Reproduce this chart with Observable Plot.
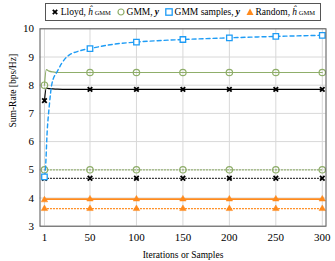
<!DOCTYPE html>
<html><head><meta charset="utf-8">
<script src="https://cdn.jsdelivr.net/npm/d3@7"></script>
<script src="https://cdn.jsdelivr.net/npm/@observablehq/plot@0.6"></script>
<style>
body{margin:0;background:#fff;font-family:"Liberation Serif","DejaVu Serif",serif;}
#wrap{position:relative;width:335px;height:261px;}
#legend{position:absolute;left:45px;top:3px;width:276px;height:18px;border:1px solid #555;background:#fff;
 font-size:9.5px;display:flex;align-items:center;justify-content:space-around;white-space:nowrap;box-sizing:border-box;padding:0 2px;}
#legend span.e{display:inline-flex;align-items:center;gap:2px;}
#legend sub{font-size:6.5px;vertical-align:-2px;}
</style></head>
<body><div id="wrap"><div id="legend"></div></div>
<script>
// marker positions
const markX = [1, 50, 100, 150, 200, 250, 300];
// solid/dashed line sample positions
const lineX = [1, 3, 6, 10, 15, 25, 40, 50, 75, 100, 150, 200, 250, 300];
const lloydLine = [7.45, 7.9, 7.88, 7.87, 7.86, 7.85, 7.85, 7.85, 7.85, 7.85, 7.85, 7.85, 7.85, 7.85];
const gmmLine   = [8.0, 8.55, 8.5, 8.47, 8.45, 8.45, 8.45, 8.45, 8.45, 8.45, 8.45, 8.45, 8.45, 8.45];
const randLine  = [3.93, 3.96, 3.96, 3.96, 3.96, 3.96, 3.96, 3.96, 3.96, 3.96, 3.96, 3.96, 3.96, 3.96];
const sampX = [1, 2, 4, 6, 9, 15, 25, 40, 50, 75, 100, 150, 200, 250, 300];
const sampY = [4.75, 5.0, 6.4, 7.2, 8.05, 8.5, 9.0, 9.23, 9.3, 9.45, 9.53, 9.62, 9.68, 9.73, 9.77];
const lloydMarks = [7.45, 7.85, 7.85, 7.85, 7.85, 7.85, 7.85];
const gmmMarks   = [8.0, 8.45, 8.45, 8.45, 8.45, 8.45, 8.45];
const sampMarks  = [4.75, 9.3, 9.53, 9.62, 9.68, 9.73, 9.77];
const randMarks  = [3.93, 3.96, 3.96, 3.96, 3.96, 3.96, 3.96];
// dotted baselines
const lloydDot = 4.7, gmmDot = 5.0, randDot = 3.62;
const xTicks = [1, 50, 100, 150, 200, 250, 300];
const yTicks = [3, 4, 5, 6, 7, 8, 9, 10];

const C = {black:"#000", green:"#8fae6a", blue:"#1e9cf5", orange:"#ff8a1c"};

const pts = (xs, ys) => xs.map((x,i)=>({x, y: ys[i]}));
const flat = (v) => markX.map(x=>({x, y:v}));

const chart = Plot.plot({
  width: 335, height: 261,
  marginLeft: 39.5, marginRight: 9.5, marginTop: 28.3, marginBottom: 35.3,
  style: {fontFamily: '"Liberation Serif","DejaVu Serif",serif', fontSize: "11px", background: "transparent"},
  x: {domain: [-3.8, 304], ticks: xTicks, tickSize: 0, tickPadding: 7, tickFormat: "d", label: null},
  y: {domain: [3, 10], ticks: yTicks, tickSize: 0, tickPadding: 6, tickFormat: "d", label: null},
  marks: [
    Plot.gridX(xTicks, {stroke: "#d8d8d8", strokeOpacity: 1, strokeWidth: 1}),
    Plot.gridY(yTicks, {stroke: "#d8d8d8", strokeOpacity: 1, strokeWidth: 1}),
    // dotted lines
    Plot.lineY(flat(lloydDot), {x:"x", y:"y", stroke:C.black, strokeWidth:1.2, strokeDasharray:"1,2"}),
    Plot.lineY(flat(gmmDot), {x:"x", y:"y", stroke:C.green, strokeWidth:1.2, strokeDasharray:"1,2"}),
    Plot.lineY(flat(randDot), {x:"x", y:"y", stroke:C.orange, strokeWidth:1.2, strokeDasharray:"1,2"}),
    Plot.dot(flat(lloydDot), {x:"x", y:"y", symbol:"times", stroke:C.black, strokeWidth:1.8, r:2.2}),
    Plot.dot(flat(gmmDot), {x:"x", y:"y", symbol:"circle", stroke:C.green, fill:"none", strokeWidth:1.2, r:3.2}),
    Plot.dot(flat(randDot), {x:"x", y:"y", symbol:"triangle", fill:C.orange, stroke:C.orange, strokeWidth:0.5, r:2.4}),
    // main lines
    Plot.line(pts(lineX, randLine), {x:"x", y:"y", stroke:C.orange, strokeWidth:1.6, curve:"monotone-x"}),
    Plot.line(pts(lineX, lloydLine), {x:"x", y:"y", stroke:C.black, strokeWidth:1.2, curve:"monotone-x"}),
    Plot.line(pts(lineX, gmmLine), {x:"x", y:"y", stroke:C.green, strokeWidth:1.2, curve:"monotone-x"}),
    Plot.line(pts(sampX, sampY), {x:"x", y:"y", stroke:C.blue, strokeWidth:1.4, strokeDasharray:"4,3", curve:"monotone-x"}),
    Plot.dot(pts(markX, randMarks), {x:"x", y:"y", symbol:"triangle", fill:C.orange, stroke:C.orange, strokeWidth:0.5, r:2.4}),
    Plot.dot(pts(markX, lloydMarks), {x:"x", y:"y", symbol:"times", stroke:C.black, strokeWidth:1.8, r:2.2}),
    Plot.dot(pts(markX, gmmMarks), {x:"x", y:"y", symbol:"circle", stroke:C.green, fill:"none", strokeWidth:1.2, r:3.2}),
    Plot.dot(pts(markX, sampMarks), {x:"x", y:"y", symbol:"square", stroke:C.blue, fill:"#fff", strokeWidth:1.3, r:3.1}),
    Plot.frame({stroke: "#555", strokeWidth: 1}),
    Plot.text(["Sum-Rate [bps/Hz]"], {frameAnchor:"left", dx:-27, rotate:-90, fontSize:9.5}),
    Plot.text(["Iterations or Samples"], {frameAnchor:"bottom", lineAnchor:"middle", dy:29, fontSize:9.5})
  ]
});
document.getElementById("wrap").prepend(chart);

const sym = (s) => `<svg width="8" height="8" viewBox="-4 -4 8 8">${s}</svg>`;
const hgmm = `<i>ĥ</i><sub>GMM</sub>`;
document.getElementById("legend").innerHTML = [
  `<span class="e">${sym('<path d="M-2.2,-2.2L2.2,2.2M-2.2,2.2L2.2,-2.2" stroke="#000" stroke-width="1.8"/>')}Lloyd, ${hgmm}</span>`,
  `<span class="e">${sym(`<circle r="3" fill="none" stroke="${C.green}" stroke-width="1.2"/>`)}GMM, <b><i>y</i></b></span>`,
  `<span class="e">${sym(`<rect x="-3.2" y="-3.2" width="6.4" height="6.4" fill="#fff" stroke="${C.blue}" stroke-width="1.3"/>`)}GMM samples, <b><i>y</i></b></span>`,
  `<span class="e">${sym(`<path d="M0,-3.5L3.5,3L-3.5,3Z" fill="${C.orange}"/>`)}Random, ${hgmm}</span>`
].join("");
const svg = document.querySelector("#wrap svg");
svg.style.position = "absolute"; svg.style.left = "0"; svg.style.top = "0";
</script></body></html>
